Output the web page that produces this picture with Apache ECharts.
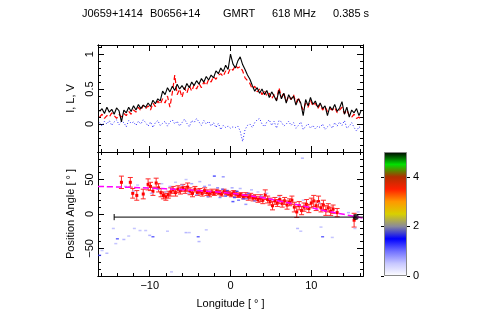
<!DOCTYPE html>
<html>
<head>
<meta charset="utf-8">
<script src="https://cdn.jsdelivr.net/npm/echarts@6.0.0/dist/echarts.min.js"></script>
<style>
  html, body { margin: 0; padding: 0; background: #fff; }
  #chart { width: 491px; height: 327px; }
</style>
</head>
<body>
<div id="chart"></div>
<script>
// profile bins: -16.2 .. 16.2 deg, 0.3 deg apart
const lon = [];
for (let i = 0; i < 109; i++) lon.push(+(-16.2 + 0.3 * i).toFixed(1));

// total intensity (black)
const stokesI = [
  0.18, 0.22, 0.15, 0.24, 0.17, 0.21, 0.14, 0.23, 0.19, 0.03,
  0.20, 0.16, 0.24, 0.18, 0.26, 0.20, 0.28, 0.22, 0.27, 0.24,
  0.30, 0.25, 0.34, 0.29, 0.36, 0.33, 0.47, 0.42, 0.52, 0.46,
  0.54, 0.48, 0.57, 0.50, 0.55, 0.49, 0.58, 0.52, 0.60, 0.55,
  0.62, 0.57, 0.65, 0.60, 0.68, 0.63, 0.70, 0.66, 0.76, 0.72,
  0.80, 0.75, 0.84, 0.78, 1.00, 0.86, 0.80, 0.90, 0.96, 0.85,
  0.78, 0.70, 0.64, 0.55, 0.47, 0.52, 0.44, 0.50, 0.42, 0.48,
  0.38, 0.46, 0.40, 0.33, 0.48, 0.36, 0.44, 0.30, 0.42, 0.35,
  0.40, 0.27, 0.36, 0.30, 0.12, 0.35, 0.26, 0.38, 0.28, 0.33,
  0.24, 0.30, 0.22, 0.26, 0.12, 0.25, 0.20, 0.28, 0.18, 0.23,
  0.32, 0.14, 0.24, 0.10, 0.20, 0.16, 0.22, 0.12, 0.20
];

// linear polarization (red dashed)
const stokesL = [
  0.10, 0.14, 0.08, 0.12, 0.10, 0.16, 0.12, 0.08, 0.14, 0.10,
  0.15, 0.12, 0.18, 0.14, 0.20, 0.17, 0.24, 0.19, 0.27, 0.22,
  0.26, 0.20, 0.30, 0.25, 0.33, 0.28, 0.36, 0.30, 0.40, 0.24,
  0.45, 0.70, 0.42, 0.50, 0.38, 0.52, 0.44, 0.55, 0.47, 0.56,
  0.50, 0.58, 0.52, 0.60, 0.55, 0.64, 0.60, 0.68, 0.64, 0.70,
  0.72, 0.68, 0.76, 0.72, 0.80, 0.77, 0.84, 0.80, 0.82, 0.76,
  0.66, 0.62, 0.58, 0.50, 0.54, 0.46, 0.50, 0.42, 0.48, 0.40,
  0.44, 0.36, 0.42, 0.34, 0.52, 0.38, 0.45, 0.32, 0.40, 0.35,
  0.42, 0.30, 0.38, 0.28, 0.20, 0.30, 0.24, 0.34, 0.26, 0.30,
  0.22, 0.28, 0.20, 0.25, 0.18, 0.22, 0.20, 0.24, 0.16, 0.20,
  0.24, 0.15, 0.20, 0.12, 0.10, 0.14, 0.08, 0.10, 0.06
];

// circular polarization (blue dotted)
const stokesV = [
  0.02, -0.03, 0.04, 0.00, 0.05, -0.02, 0.03, 0.06, -0.01, 0.04,
  0.02, -0.04, 0.05, 0.01, 0.03, -0.02, 0.04, 0.00, 0.06, 0.02,
  -0.03, 0.03, -0.05, 0.02, 0.05, -0.02, 0.01, 0.04, -0.03, 0.03,
  0.06, 0.00, 0.04, -0.03, 0.02, 0.07, 0.01, -0.04, 0.05, 0.02,
  0.08, 0.03, -0.02, 0.05, 0.00, 0.04, -0.03, 0.02, -0.05, 0.01,
  -0.08, -0.02, -0.05, -0.03, -0.06, -0.04, -0.05, -0.03, -0.10, -0.25,
  -0.08, -0.02, 0.00, -0.05, 0.02, 0.06, 0.08, 0.00, -0.04, 0.03,
  0.06, -0.02, 0.04, -0.06, 0.05, 0.03, -0.03, 0.00, 0.04, -0.02,
  0.02, -0.06, -0.02, 0.03, -0.08, -0.03, 0.00, -0.06, -0.02, -0.07,
  -0.03, -0.05, 0.00, -0.08, -0.04, -0.01, -0.06, 0.02, -0.03, 0.03,
  -0.02, 0.05, -0.06, -0.03, 0.02, -0.05, -0.10, -0.04, -0.06
];

// average position angle with errors (red points)
const paLon = [-13.5, -12.4, -12.1, -11.6, -10.8, -10.2, -9.9, -9.6, -9.2, -8.9,
  -8.6, -8.3, -8.0, -7.7, -7.4, -7.1, -6.8, -6.5, -6.2, -5.9,
  -5.6, -5.3, -5.0, -4.7, -4.4, -4.1, -3.8, -3.5, -3.2, -2.9,
  -2.6, -2.3, -2.0, -1.7, -1.4, -1.1, -0.8, -0.5, -0.2, 0.1,
  0.4, 0.7, 1.0, 1.3, 1.6, 1.9, 2.2, 2.5, 2.8, 3.1,
  3.4, 3.7, 4.0, 4.3, 4.6, 4.9, 5.2, 5.5, 5.8, 6.1,
  6.4, 6.7, 7.0, 7.3, 7.6, 7.9, 8.2, 8.5, 8.8, 9.1,
  9.4, 9.7, 10.0, 10.3, 10.6, 10.9, 11.2, 11.5, 11.8, 12.1,
  12.4, 12.7, 13.2, 15.3];
const paVal = [46, 46, 30, 27, 29, 43, 40, 33, 45, 38,
  31, 27, 25, 28, 32, 35, 31, 36, 34, 38,
  35, 39, 33, 30, 36, 31, 33, 30, 34, 31,
  29, 32, 30, 33, 31, 29, 33, 31, 30, 28,
  31, 29, 27, 28, 25, 27, 24, 26, 23, 24,
  21, 23, 20, 28, 21, 18, 12, 19, 16, 21,
  15, 19, 13, 17, 20, 10, 3, 12, 5, 10,
  14, 8, 16, 19, 12, 18, 9, 13, 5, 9,
  4, 7, 2, -9];
const paErr = [9, 7, 7, 7, 7, 8, 6, 6, 7, 6,
  6, 5, 5, 5, 6, 5, 5, 5, 5, 5,
  5, 6, 5, 5, 4, 4, 4, 4, 4, 4,
  4, 4, 3, 3, 3, 3, 3, 3, 3, 3,
  3, 3, 3, 3, 3, 4, 4, 4, 4, 4,
  4, 5, 5, 7, 5, 5, 6, 5, 5, 6,
  5, 5, 6, 5, 6, 7, 8, 6, 6, 6,
  7, 6, 7, 8, 7, 8, 6, 7, 7, 6,
  6, 6, 6, 10];

// RVM fit (magenta dashed)
const rvmLon = [-16.4, -14, -12, -10, -8, -6, -4, -2, 0, 2, 4, 6, 8, 10, 12, 14, 16.4];
const rvmPa = [40, 39.3, 38.5, 37.6, 36.5, 35.4, 34, 32.2, 30, 27, 23.5, 19, 14, 9, 4, -0.5, -6];

// single-pulse PA histogram cells: [lon, pa, count]
const spLon = [-13.0, -11.5, -10.5, -9.0, -8.5, -7.5, -6.8, -6.0, -5.5, -4.8, -3.8, -3.2, -2.6, -2.0, -1.6,
  -1.0, -0.9, -0.4, 0.2, 0.3, 0.8, 1.2, 1.6, 1.9, 2.2, 2.6, 3.0, 3.4, 3.8, 4.5,
  -12.0, -9.8, -8.0, -5.2, -4.2, -2.8, -1.3, -0.6, 0.5, 1.0, 2.0, 6.0, 9.0, 11.0, 14.6, 15.8,
  8.9, -14.5, -11.9, -11.2, -10.5, -10.0, -9.6, -7.8, -5.5, -5.1, -4.0, -3.0, -3.9, -14.0, -13.2,
  -12.6, -14.2, -15.9, -15.3, -16.2, -7.3, 8.3, 8.7, 11.2, 11.4, 12.6, 15.4];
const spPa = [40, 42, 38, 36, 44, 40, 46, 42, 50, 44, 47, 40, 42, 55, 38,
  36, 54, 34, 38, 18, 33, 37, 22, 14, 30, 35, 19, 32, 26, 30,
  33, 30, 32, 30, 28, 25, 24, 26, 24, 20, 22, 25, 20, 16, 2, 3,
  81, -21, -21, -24, -24, -31, -33, -25, -27, -27, -33, -23, -40, -36, -37,
  -32, -43, -53, -57, -60, -84, -21, -25, -19, -33, -34, -21];
const spCount = [0.7, 0.6, 0.6, 0.8, 0.6, 0.7, 0.6, 0.7, 0.6, 0.8, 0.7, 0.9, 0.7, 1.3, 1.0,
  1.1, 0.9, 1.2, 0.8, 1.3, 1.3, 0.7, 1.2, 0.9, 1.1, 0.7, 1.0, 0.6, 0.8, 0.6,
  0.6, 0.7, 0.6, 0.7, 0.8, 0.9, 1.0, 1.3, 1.4, 1.1, 0.9, 0.6, 0.6, 0.6, 0.7, 0.6,
  0.7, 0.6, 0.6, 0.6, 0.6, 0.7, 1.2, 0.6, 0.7, 0.6, 1.2, 0.6, 0.7, 1.2, 0.7,
  0.6, 0.6, 0.6, 0.7, 1.2, 0.6, 0.7, 0.6, 0.6, 1.2, 0.6, 0.6];

// black reference line and marker
const refLine = [[-14.4, -4.5], [16.4, -4.5]];
const refCap = [[-14.4, -9], [-14.4, 0]];
const refPoint = [[15.5, -4.5]];

// colour bar: colours at 0, 0.5, ..., 5
const cbColors = ['#ffffff', '#c8c8ff', '#7070ff', '#0000ff', '#8a8a9a', '#d8d000',
  '#ff9800', '#ff2000', '#b03000', '#00e000', '#000000'];

// ticks
const xMinor = [-16, -14, -12, -10, -8, -6, -4, -2, 0, 2, 4, 6, 8, 10, 12, 14, 16];
const xMajor = [-10, 0, 10];
const y1Minor = [-0.4, -0.3, -0.2, -0.1, 0, 0.1, 0.2, 0.3, 0.4, 0.5, 0.6, 0.7, 0.8, 0.9, 1.0, 1.1];
const y1Major = [0, 0.5, 1];
const y2Minor = [-90, -80, -70, -60, -50, -40, -30, -20, -10, 0, 10, 20, 30, 40, 50, 60, 70, 80, 90];
const y2Major = [-50, 0, 50];
const cbTicks = [0, 2, 4];

const FONT = 'Liberation Sans';
const minus = v => String(v).replace('-', '\u2212');

function frameAxis(gridIndex, position, min, max, ticks, len, extra) {
  return Object.assign({
    type: 'value', gridIndex, position, min, max,
    axisLine: { show: true, onZero: false, lineStyle: { color: '#000', width: 1 } },
    axisTick: { show: true, inside: true, length: len, customValues: ticks, lineStyle: { color: '#000', width: 1 } },
    axisLabel: { show: false },
    splitLine: { show: false }
  }, extra || {});
}

const xLabels = {
  axisLabel: { show: true, customValues: xMajor, margin: 4, color: '#000', fontSize: 11, fontFamily: FONT, formatter: minus },
  name: 'Longitude [ \u00b0 ]', nameLocation: 'middle', nameGap: 22,
  nameTextStyle: { color: '#000', fontSize: 11, fontFamily: FONT }
};

const xAxes = [
  frameAxis(0, 'bottom', -16.4, 16.4, xMinor, 3),
  frameAxis(0, 'bottom', -16.4, 16.4, xMajor, 6),
  frameAxis(0, 'top', -16.4, 16.4, xMinor, 3),
  frameAxis(0, 'top', -16.4, 16.4, xMajor, 6),
  frameAxis(1, 'bottom', -16.4, 16.4, xMinor, 3, xLabels),
  frameAxis(1, 'bottom', -16.4, 16.4, xMajor, 6),
  frameAxis(1, 'top', -16.4, 16.4, xMinor, 3),
  frameAxis(1, 'top', -16.4, 16.4, xMajor, 6),
  { type: 'category', gridIndex: 2, data: ['cb'], show: false }
];

function yLabels(major, name) {
  return {
    axisLabel: { show: true, customValues: major, rotate: 90, margin: 3, color: '#000', fontSize: 11, fontFamily: FONT, formatter: minus },
    name: name, nameLocation: 'middle', nameGap: 20, nameRotate: 90,
    nameTextStyle: { color: '#000', fontSize: 11, fontFamily: FONT }
  };
}

const yAxes = [
  frameAxis(0, 'left', -0.4, 1.13, y1Minor, 3, yLabels(y1Major, 'I, L, V')),
  frameAxis(0, 'left', -0.4, 1.13, y1Major, 6),
  frameAxis(0, 'right', -0.4, 1.13, y1Minor, 3),
  frameAxis(0, 'right', -0.4, 1.13, y1Major, 6),
  frameAxis(1, 'left', -90, 90, y2Minor, 3, yLabels(y2Major, 'Position Angle [ \u00b0 ]')),
  frameAxis(1, 'left', -90, 90, y2Major, 6),
  frameAxis(1, 'right', -90, 90, y2Minor, 3),
  frameAxis(1, 'right', -90, 90, y2Major, 6),
  {
    type: 'value', gridIndex: 2, position: 'right', min: 0, max: 5,
    axisLine: { show: false },
    axisTick: { show: true, inside: false, length: 3, customValues: cbTicks, lineStyle: { color: '#000' } },
    axisLabel: { show: true, customValues: cbTicks, margin: 6, color: '#000', fontSize: 11, fontFamily: FONT },
    splitLine: { show: false }
  },
  {
    type: 'value', gridIndex: 2, position: 'left', min: 0, max: 5,
    axisLine: { show: false },
    axisTick: { show: true, inside: false, length: 3, customValues: cbTicks, lineStyle: { color: '#000' } },
    axisLabel: { show: false },
    splitLine: { show: false }
  }
];

const titleParts = [
  ['J0659+1414', 82], ['B0656+14', 150], ['GMRT', 223], ['618 MHz', 272], ['0.385 s', 333]
];

const gradientStops = cbColors.map((c, i) => ({ offset: 1 - i / (cbColors.length - 1), color: c })).reverse();

const paData = paLon.map((x, i) => [x, paVal[i], paErr[i]]);
const spData = spLon.map((x, i) => [x, spPa[i], spCount[i]]);

const chart = echarts.init(document.getElementById('chart'), null, { renderer: 'canvas' });

chart.setOption({
  animation: false,
  backgroundColor: '#fff',
  title: titleParts.map(([t, x]) => ({
    text: t, left: x, top: 8, padding: 0,
    textStyle: { color: '#000', fontSize: 11, fontWeight: 'normal', fontFamily: FONT }
  })),
  grid: [
    { left: 98, top: 45, width: 265, height: 107 },
    { left: 98, top: 152, width: 265, height: 124 },
    { left: 384, top: 152, width: 23, height: 124 }
  ],
  xAxis: xAxes,
  yAxis: yAxes,
  visualMap: {
    type: 'continuous', show: false, min: 0, max: 5, dimension: 2,
    seriesIndex: 3, inRange: { color: cbColors }
  },
  series: [
    {
      name: 'V', type: 'line', xAxisIndex: 0, yAxisIndex: 0, showSymbol: false,
      data: lon.map((x, i) => [x, stokesV[i]]),
      lineStyle: { color: '#2a2aff', width: 1, type: [1, 2] }
    },
    {
      name: 'L', type: 'line', xAxisIndex: 0, yAxisIndex: 0, showSymbol: false,
      data: lon.map((x, i) => [x, stokesL[i]]),
      lineStyle: { color: '#ff0000', width: 1.2, type: [5, 3] }
    },
    {
      name: 'I', type: 'line', xAxisIndex: 0, yAxisIndex: 0, showSymbol: false,
      data: lon.map((x, i) => [x, stokesI[i]]),
      lineStyle: { color: '#000', width: 1.1 }
    },
    {
      name: 'single pulses', type: 'scatter', xAxisIndex: 4, yAxisIndex: 4,
      symbol: 'rect', symbolSize: [3, 1.5], data: spData
    },
    {
      name: 'RVM', type: 'line', xAxisIndex: 4, yAxisIndex: 4, showSymbol: false, smooth: true,
      data: rvmLon.map((x, i) => [x, rvmPa[i]]),
      lineStyle: { color: '#ff00ff', width: 1.5, type: [6, 3] }
    },
    {
      name: 'ref', type: 'line', xAxisIndex: 4, yAxisIndex: 4, showSymbol: false,
      data: refLine, lineStyle: { color: '#000', width: 1 }
    },
    {
      name: 'refCap', type: 'line', xAxisIndex: 4, yAxisIndex: 4, showSymbol: false,
      data: refCap, lineStyle: { color: '#000', width: 1 }
    },
    {
      name: 'PA', type: 'custom', xAxisIndex: 4, yAxisIndex: 4, data: paData,
      renderItem: function (params, api) {
        const x = api.value(0), y = api.value(1), e = api.value(2);
        const c = api.coord([x, y]);
        const hi = api.coord([x, y + e]);
        const lo = api.coord([x, y - e]);
        const st = { stroke: '#ff2a2a', lineWidth: 1 };
        return {
          type: 'group',
          children: [
            { type: 'line', shape: { x1: c[0], y1: hi[1], x2: c[0], y2: lo[1] }, style: st },
            { type: 'line', shape: { x1: c[0] - 2.5, y1: hi[1], x2: c[0] + 2.5, y2: hi[1] }, style: st },
            { type: 'line', shape: { x1: c[0] - 2.5, y1: lo[1], x2: c[0] + 2.5, y2: lo[1] }, style: st },
            { type: 'rect', shape: { x: c[0] - 1.5, y: c[1] - 1.5, width: 3, height: 3 }, style: { fill: '#ff0000' } }
          ]
        };
      }
    },
    {
      name: 'refPoint', type: 'scatter', xAxisIndex: 4, yAxisIndex: 4,
      symbol: 'circle', symbolSize: 6, data: refPoint, itemStyle: { color: '#000' }
    },
    {
      name: 'colorbar', type: 'bar', xAxisIndex: 8, yAxisIndex: 8, data: [5],
      barWidth: '100%',
      itemStyle: {
        color: new echarts.graphic.LinearGradient(0, 0, 0, 1, gradientStops),
        borderColor: '#888', borderWidth: 1
      }
    }
  ]
});
</script>
</body>
</html>
